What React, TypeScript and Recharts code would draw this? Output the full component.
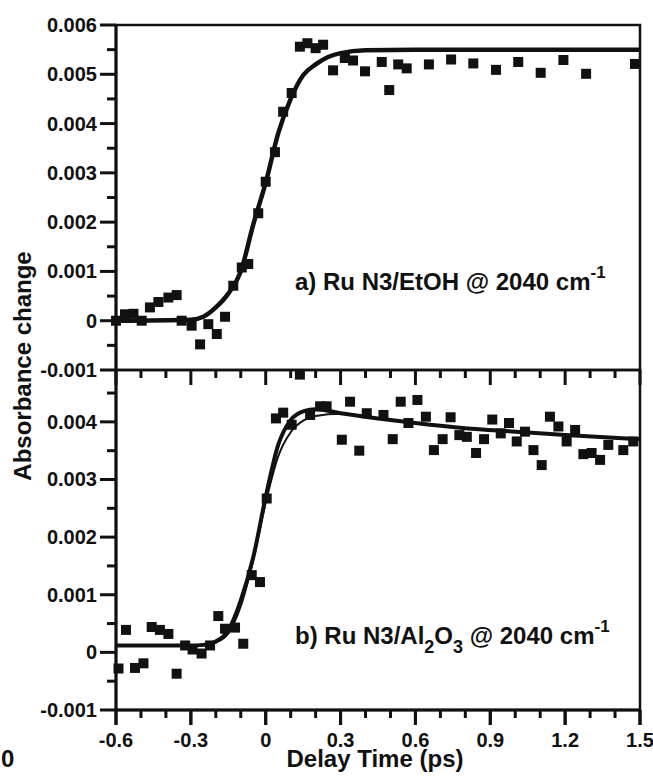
import React from 'react';
import { ComposedChart, Line, Scatter, XAxis, YAxis, ReferenceArea } from 'recharts';

const FONT = '"Liberation Sans", Arial, Helvetica, sans-serif';
const INK = '#111';

// delay axis, ps (majors every 0.3, minors every 0.1)
const delayTicks = [-0.6, -0.5, -0.4, -0.3, -0.2, -0.1, 0, 0.1, 0.2, 0.3, 0.4, 0.5, 0.6, 0.7, 0.8, 0.9, 1.0, 1.1, 1.2, 1.3, 1.4, 1.5];
const delayMajor = [-0.6, -0.3, 0, 0.3, 0.6, 0.9, 1.2, 1.5];
const delayDomain: [number, number] = [-0.6, 1.5];

// absorbance axes (majors every 0.001, minors every 0.0005)
const ethanolTicks = [-0.001, -0.0005, 0, 0.0005, 0.001, 0.0015, 0.002, 0.0025, 0.003, 0.0035, 0.004, 0.0045, 0.005, 0.0055, 0.006];
const ethanolRange: [number, number] = [-0.001, 0.006];
const aluminaTicks = [-0.001, -0.0005, 0, 0.0005, 0.001, 0.0015, 0.002, 0.0025, 0.003, 0.0035, 0.004, 0.0045];
const aluminaRange: [number, number] = [-0.001, 0.0049];

// a) Ru N3 in ethanol: measured points [delay, dA]
const ethanolPoints: [number, number][] = [
  [-0.6, 0.0], [-0.564, 0.00013], [-0.53, 0.00014], [-0.497, 0.0], [-0.464, 0.00027],
  [-0.43, 0.00038], [-0.39, 0.00047], [-0.357, 0.00052], [-0.337, 0.0], [-0.297, -0.0001],
  [-0.263, -0.00048], [-0.23, -0.00007], [-0.196, -0.00027], [-0.163, 0.00008], [-0.13, 0.00071],
  [-0.096, 0.00108], [-0.07, 0.00115], [-0.03, 0.00218], [0.0, 0.00282], [0.037, 0.00342],
  [0.07, 0.00424], [0.104, 0.00462], [0.137, 0.00556], [0.167, 0.00563], [0.2, 0.00553],
  [0.23, 0.0056], [0.27, 0.00508], [0.317, 0.00533], [0.35, 0.00528], [0.398, 0.00506],
  [0.465, 0.00525], [0.495, 0.00468], [0.531, 0.0052], [0.565, 0.00512], [0.654, 0.0052],
  [0.743, 0.0053], [0.832, 0.00522], [0.923, 0.00509], [1.012, 0.00525], [1.102, 0.00503],
  [1.193, 0.00529], [1.284, 0.00501], [1.48, 0.00521],
];

// a) fit curve
const ethanolFit: [number, number][] = [
  [-0.6, 0], [-0.3, 0.00002], [-0.25, 0.00008], [-0.2, 0.00027], [-0.15, 0.00055],
  [-0.1, 0.001], [-0.05, 0.00195], [0, 0.0028], [0.05, 0.0038], [0.1, 0.0045],
  [0.15, 0.00498], [0.2, 0.0052], [0.25, 0.00535], [0.3, 0.00543], [0.4, 0.00549],
  [0.6, 0.0055], [1.5, 0.0055],
];

// b) Ru N3 on Al2O3: measured points
const aluminaPoints: [number, number][] = [
  [-0.59, -0.00028], [-0.56, 0.00039], [-0.524, -0.00027], [-0.49, -0.00019], [-0.457, 0.00044],
  [-0.424, 0.00039], [-0.39, 0.00032], [-0.357, -0.00037], [-0.323, 0.00012], [-0.293, 0.00005],
  [-0.257, -0.00002], [-0.223, 0.00012], [-0.19, 0.00063], [-0.163, 0.00041], [-0.123, 0.00043],
  [-0.09, 0.00015], [-0.056, 0.00134], [-0.023, 0.00122], [0.004, 0.00267], [0.041, 0.00406],
  [0.07, 0.00416], [0.104, 0.00395], [0.137, 0.00482], [0.178, 0.00412], [0.218, 0.00427],
  [0.244, 0.00427], [0.305, 0.00369], [0.338, 0.00435], [0.375, 0.0035], [0.405, 0.00415],
  [0.472, 0.00412], [0.509, 0.0037], [0.541, 0.00435], [0.572, 0.00398], [0.608, 0.00438],
  [0.642, 0.00409], [0.674, 0.00351], [0.709, 0.0037], [0.741, 0.00408], [0.776, 0.00377],
  [0.806, 0.00374], [0.843, 0.00346], [0.875, 0.0037], [0.908, 0.00404], [0.942, 0.0038],
  [0.975, 0.00398], [1.006, 0.00366], [1.039, 0.00383], [1.073, 0.00351], [1.106, 0.00325],
  [1.139, 0.00409], [1.173, 0.00392], [1.206, 0.00366], [1.24, 0.00386], [1.273, 0.00344],
  [1.306, 0.00346], [1.34, 0.00334], [1.373, 0.0036], [1.433, 0.00351], [1.473, 0.00366],
];

// b) fit with decay (thick) and rise-only fit (thin)
const aluminaFitDecay: [number, number][] = [
  [-0.6, 0.00012], [-0.3, 0.00012], [-0.25, 0.00013], [-0.2, 0.00019], [-0.15, 0.00038],
  [-0.1, 0.0009], [-0.05, 0.00165], [0, 0.0027], [0.05, 0.0036], [0.1, 0.00403],
  [0.15, 0.00418], [0.2, 0.00422], [0.3, 0.00415], [0.45, 0.00406], [0.6, 0.00398],
  [0.8, 0.00389], [1.0, 0.00383], [1.2, 0.00377], [1.5, 0.0037],
];
const aluminaFitRise: [number, number][] = [
  [-0.6, 0.00012], [-0.3, 0.00012], [-0.25, 0.00012], [-0.2, 0.00017], [-0.15, 0.00033],
  [-0.1, 0.0008], [-0.05, 0.0016], [0, 0.0026], [0.05, 0.0034], [0.1, 0.00382],
  [0.15, 0.00402], [0.2, 0.0041], [0.3, 0.00414], [0.45, 0.00406],
];

const toRows = (pts: [number, number][]) => pts.map(([t, v]) => ({ t, v }));

const W = 653;
const H = 781;
const PLOT_LEFT = 116;
const PLOT_RIGHT = 640;
const TOP_Y0 = 25;
const SPLIT_Y = 370;
const BOTTOM_Y1 = 710;
const AXIS_H = 2;

// one plot area holds both panels: each y-axis is stretched so that its own
// range fills only its band (upper 25..370, lower 370..710)
const upperPx = SPLIT_Y - TOP_Y0;
const lowerPx = BOTTOM_Y1 - SPLIT_Y;
const upperSpan = ethanolRange[1] - ethanolRange[0];
const lowerSpan = aluminaRange[1] - aluminaRange[0];
const upperDomain: [number, number] = [ethanolRange[0] - (upperSpan * lowerPx) / upperPx, ethanolRange[1]];
const lowerDomain: [number, number] = [aluminaRange[0], aluminaRange[1] + (lowerSpan * upperPx) / lowerPx];

// tick marks along the lower frame and along the shared panel edge
const bottomTickRows = delayTicks.map((t) => ({ t, v: aluminaRange[0] }));
const edgeTickRows = delayTicks.map((t) => ({ t, v: aluminaRange[1] }));

const isMajorDelay = (v: number) => Math.round(v * 10) % 3 === 0;
const isMajorAbs = (v: number) => Math.abs(v * 1000 - Math.round(v * 1000)) < 1e-6;
const fmtDelay = (v: number) => (v === 0 ? '0' : v.toFixed(1));
const fmtAbs = (v: number) => (v === 0 ? '0' : v.toFixed(3));

const tickText = { fontFamily: FONT, fontSize: 20, fontWeight: 700, fill: INK };

function Square(props: any) {
  const { cx, cy } = props;
  if (cx == null || cy == null) return null;
  return <rect x={cx - 5} y={cy - 5} width={10} height={10} fill={INK} />;
}

// hanging tick: 15px for majors, 8px for minors
function HangingTick(props: any) {
  const { cx, cy, payload } = props;
  if (cx == null || cy == null) return null;
  const len = isMajorDelay(payload.t) ? 15 : 8;
  return <rect x={cx - 1.5} y={cy} width={3} height={len} fill={INK} />;
}

// absorbance ticks always sit on the left frame
function AbsTick(props: any) {
  const { y, payload } = props;
  const major = isMajorAbs(payload.value);
  const len = major ? 16 : 9;
  return (
    <g>
      <rect x={PLOT_LEFT - len} y={y - 1.5} width={len} height={3} fill={INK} />
      {major && (
        <text x={PLOT_LEFT - 19} y={y + 7} textAnchor="end" {...tickText}>
          {fmtAbs(payload.value)}
        </text>
      )}
    </g>
  );
}

function Annotations() {
  const big = { fontFamily: FONT, fontSize: 24, fontWeight: 700, fill: INK };
  return (
    <svg width={W} height={H} style={{ position: 'absolute', left: 0, top: 0 }}>
      <text {...big} x={295} y={290}>
        a) Ru N3/EtOH @ 2040 cm
        <tspan fontSize={17} dy={-12}>-1</tspan>
      </text>
      <text {...big} x={295} y={644}>
        b) Ru N3/Al
        <tspan fontSize={18} dy={9}>2</tspan>
        <tspan dy={-9}>O</tspan>
        <tspan fontSize={18} dy={9}>3</tspan>
        <tspan dy={-9}> @ 2040 cm</tspan>
        <tspan fontSize={17} dy={-12}>-1</tspan>
      </text>
      <text {...big} x={31} y={366} textAnchor="middle" transform="rotate(-90 31 366)">
        Absorbance change
      </text>
      <text {...big} x={375} y={767} textAnchor="middle">
        Delay Time (ps)
      </text>
      <text {...big} x={1} y={767}>
        0
      </text>
    </svg>
  );
}

export default function App() {
  return (
    <div style={{ position: 'absolute', left: 0, top: 0, width: W, height: H, background: '#fff' }}>
      <Annotations />
      <div style={{ position: 'absolute', left: 0, top: 0 }}>
        <ComposedChart
          width={W}
          height={H}
          margin={{ top: TOP_Y0, right: 0, bottom: H - BOTTOM_Y1 - AXIS_H, left: 0 }}
        >
          <XAxis
            dataKey="t"
            type="number"
            domain={delayDomain}
            ticks={delayMajor}
            interval={0}
            height={AXIS_H}
            tickSize={15}
            tickMargin={8}
            tickLine={{ stroke: INK, strokeWidth: 3 }}
            axisLine={{ stroke: INK, strokeWidth: 3 }}
            tick={tickText}
            tickFormatter={fmtDelay}
          />
          <YAxis
            yAxisId="lower"
            dataKey="v"
            type="number"
            domain={lowerDomain}
            ticks={aluminaTicks}
            interval={0}
            width={PLOT_LEFT}
            tickSize={0}
            tickMargin={0}
            tickLine={false}
            axisLine={{ stroke: INK, strokeWidth: 3 }}
            tick={AbsTick}
          />
          <YAxis
            yAxisId="upper"
            orientation="right"
            dataKey="v"
            type="number"
            domain={upperDomain}
            ticks={ethanolTicks}
            interval={0}
            width={W - PLOT_RIGHT}
            tickSize={0}
            tickMargin={0}
            tickLine={false}
            axisLine={false}
            tick={AbsTick}
          />

          <ReferenceArea
            yAxisId="upper"
            x1={delayDomain[0]}
            x2={delayDomain[1]}
            y1={ethanolRange[0]}
            y2={ethanolRange[1]}
            fill="none"
            stroke={INK}
            strokeWidth={2.5}
          />
          <ReferenceArea
            yAxisId="lower"
            x1={delayDomain[0]}
            x2={delayDomain[1]}
            y1={aluminaRange[0]}
            y2={aluminaRange[1]}
            fill="none"
            stroke={INK}
            strokeWidth={2.5}
          />

          <Line
            yAxisId="upper"
            data={toRows(ethanolFit)}
            dataKey="v"
            type="monotone"
            stroke={INK}
            strokeWidth={4.5}
            dot={false}
            activeDot={false}
            isAnimationActive={false}
          />
          <Scatter yAxisId="upper" data={toRows(ethanolPoints)} dataKey="v" shape={Square} isAnimationActive={false} />

          <Line
            yAxisId="lower"
            data={toRows(aluminaFitRise)}
            dataKey="v"
            type="monotone"
            stroke={INK}
            strokeWidth={2}
            dot={false}
            activeDot={false}
            isAnimationActive={false}
          />
          <Line
            yAxisId="lower"
            data={toRows(aluminaFitDecay)}
            dataKey="v"
            type="monotone"
            stroke={INK}
            strokeWidth={4}
            dot={false}
            activeDot={false}
            isAnimationActive={false}
          />
          <Scatter yAxisId="lower" data={toRows(aluminaPoints)} dataKey="v" shape={Square} isAnimationActive={false} />

          <Scatter yAxisId="lower" data={bottomTickRows} dataKey="v" shape={HangingTick} isAnimationActive={false} />
          <Scatter yAxisId="lower" data={edgeTickRows} dataKey="v" shape={HangingTick} isAnimationActive={false} />
        </ComposedChart>
      </div>
    </div>
  );
}
